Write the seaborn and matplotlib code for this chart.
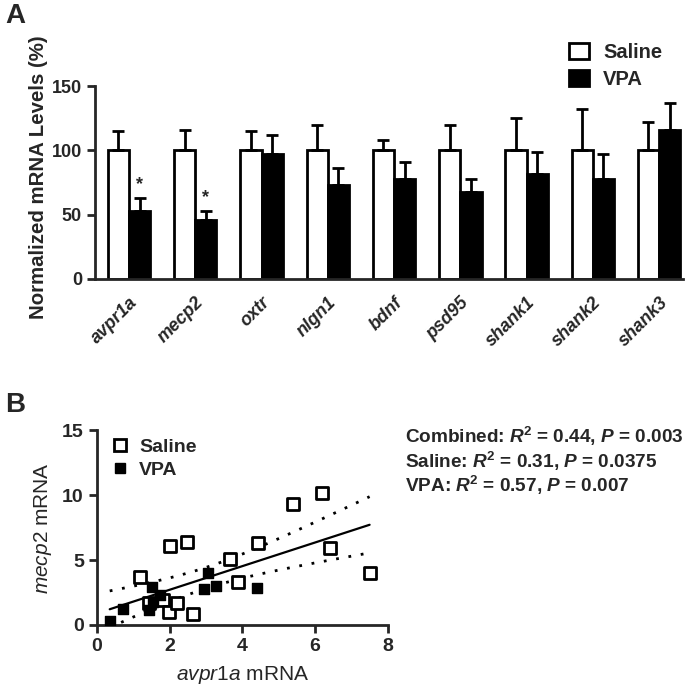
import numpy as np
import pandas as pd
import matplotlib
matplotlib.use('Agg')
import matplotlib.pyplot as plt
import seaborn as sns
from matplotlib.patches import Patch
from matplotlib.lines import Line2D

sns.set_style('ticks')
plt.rcParams['font.family'] = ['Liberation Sans', 'DejaVu Sans']
plt.rcParams['font.weight'] = 'normal'
plt.rcParams['mathtext.fontset'] = 'custom'
plt.rcParams['mathtext.rm'] = 'Liberation Sans'
plt.rcParams['mathtext.it'] = 'Liberation Sans:italic'
plt.rcParams['mathtext.bf'] = 'Liberation Sans:bold'
plt.rcParams['mathtext.bfit'] = 'Liberation Sans:italic:bold'

# ---------------- data: panel A ----------------
genes = ['avpr1a', 'mecp2', 'oxtr', 'nlgn1', 'bdnf', 'psd95', 'shank1', 'shank2', 'shank3']
saline_mean = [100, 100, 100, 100, 100, 100, 100, 100, 100]
saline_err = [15, 16, 15, 20, 8, 20, 25, 32, 22]
vpa_mean = [53, 46, 97, 73, 78, 68, 82, 78, 116]
vpa_err = [10, 7, 15, 13, 13, 10, 17, 19, 21]
significant = ['avpr1a', 'mecp2']

# ---------------- data: panel B ----------------
saline_x = [1.17, 2.0, 2.48, 1.42, 1.81, 1.97, 2.2, 2.63, 3.65, 3.87, 4.42, 5.39, 6.19, 6.42, 7.5]
saline_y = [3.72, 6.1, 6.4, 1.72, 1.92, 1.03, 1.72, 0.82, 5.05, 3.28, 6.28, 9.31, 10.13, 5.9, 3.97]
vpa_x = [0.35, 0.72, 1.42, 1.5, 1.54, 1.72, 2.94, 3.06, 3.27, 4.4]
vpa_y = [0.33, 1.2, 1.15, 2.95, 1.8, 2.3, 2.77, 4.03, 3.0, 2.82]
stats_lines = [
    r'Combined: $\mathbfit{R}^{\mathbf{2}}$ = 0.44, $\mathbfit{P}$ = 0.003',
    r'Saline: $\mathbfit{R}^{\mathbf{2}}$ = 0.31, $\mathbfit{P}$ = 0.0375',
    r'VPA: $\mathbfit{R}^{\mathbf{2}}$ = 0.57, $\mathbfit{P}$ = 0.007',
]

df_a = pd.DataFrame({
    'gene': genes * 2,
    'group': ['Saline'] * len(genes) + ['VPA'] * len(genes),
    'value': saline_mean + vpa_mean,
    'err': saline_err + vpa_err,
})

fig = plt.figure(figsize=(6.85, 6.85), dpi=100)

# ============================================================
# Panel A
# ============================================================
ax1 = fig.add_axes([0.139, 0.593, 0.858, 0.281])
sns.barplot(data=df_a, x='gene', y='value', hue='group', order=genes,
            hue_order=['Saline', 'VPA'], palette=['white', 'black'],
            edgecolor='black', linewidth=2, width=0.64, errorbar=None,
            legend=False, ax=ax1)

# upward-only error bars, GraphPad style
for bars, grp in zip(ax1.containers, ['Saline', 'VPA']):
    sub = df_a[df_a['group'] == grp]
    for patch, (_, row) in zip(bars, sub.iterrows()):
        xc = patch.get_x() + patch.get_width() / 2
        ax1.errorbar(xc, row['value'], yerr=[[0], [row['err']]], fmt='none',
                     ecolor='black', elinewidth=2, capsize=4, capthick=2, zorder=1)
        if grp == 'VPA' and row['gene'] in significant:
            ax1.text(xc, row['value'] + row['err'] + 4, '*', ha='center',
                     va='bottom', fontsize=13, fontweight='bold')

ax1.set_ylim(0, 150)
ax1.set_xlim(-0.51, 8.36)
ax1.set_yticks([0, 50, 100, 150])
ax1.set_xlabel('')
ax1.set_ylabel('Normalized mRNA Levels (%)', fontsize=14.7, fontweight='bold')
ax1.yaxis.set_label_coords(-0.08, 0.53)
ax1.set_xticks(range(len(genes)))
ax1.set_xticklabels(genes, rotation=45, ha='right', rotation_mode='anchor',
                    fontstyle='italic', fontweight='bold', fontsize=13)
ax1.tick_params(axis='x', length=0, pad=11)
ax1.tick_params(axis='y', width=2, length=6, labelsize=13)
for lbl in ax1.get_yticklabels():
    lbl.set_fontweight('bold')
sns.despine(ax=ax1)
for s in ['left', 'bottom']:
    ax1.spines[s].set_linewidth(2)

handles_a = [Patch(facecolor='white', edgecolor='black', linewidth=2, label='Saline'),
             Patch(facecolor='black', edgecolor='black', linewidth=2, label='VPA')]
leg = ax1.legend(handles=handles_a, loc='upper left', bbox_to_anchor=(0.775, 1.32),
                 frameon=False, fontsize=14.5, handlelength=1.0, handleheight=0.8,
                 handletextpad=0.7, labelspacing=0.4)
for t in leg.get_texts():
    t.set_fontweight('bold')

fig.text(0.008, 0.995, 'A', fontsize=20, fontweight='bold', va='top')

# ============================================================
# Panel B
# ============================================================
ax2 = fig.add_axes([0.1416, 0.0876, 0.4245, 0.2844])
sns.scatterplot(x=saline_x, y=saline_y, marker='s', s=64, facecolor='white',
                edgecolor='black', linewidth=2, ax=ax2, zorder=3)
sns.scatterplot(x=vpa_x, y=vpa_y, marker='s', s=42, color='black',
                edgecolor='black', linewidth=1, ax=ax2, zorder=3)

# combined linear fit with 95% confidence band
all_x = np.array(saline_x + vpa_x)
all_y = np.array(saline_y + vpa_y)
slope, intercept = np.polyfit(all_x, all_y, 1)
n = len(all_x)
resid = all_y - (slope * all_x + intercept)
s_err = np.sqrt(np.sum(resid ** 2) / (n - 2))
t_val = 2.069  # t(0.975, df=23)
xs = np.linspace(all_x.min(), all_x.max(), 100)
fit = slope * xs + intercept
band = t_val * s_err * np.sqrt(1 / n + (xs - all_x.mean()) ** 2 / np.sum((all_x - all_x.mean()) ** 2))
sns.lineplot(x=xs, y=fit, color='black', linewidth=1.6, ax=ax2)
ax2.plot(xs, fit + band, color='black', linestyle=(0, (1, 3.5)), linewidth=2)
ax2.plot(xs, fit - band, color='black', linestyle=(0, (1, 3.5)), linewidth=2)

ax2.set_xlim(0, 8)
ax2.set_ylim(0, 15)
ax2.set_xticks([0, 2, 4, 6, 8])
ax2.set_yticks([0, 5, 10, 15])
ax2.set_xlabel(r'$\mathit{avpr1a}$ mRNA', fontsize=15, labelpad=6)
ax2.set_ylabel(r'$\mathit{mecp2}$ mRNA', fontsize=15, labelpad=6)
ax2.tick_params(width=2, length=6, labelsize=14)
for lbl in ax2.get_xticklabels() + ax2.get_yticklabels():
    lbl.set_fontweight('bold')
sns.despine(ax=ax2)
for s in ['left', 'bottom']:
    ax2.spines[s].set_linewidth(2)

handles_b = [Line2D([], [], marker='s', linestyle='none', markersize=8,
                    markerfacecolor='white', markeredgecolor='black',
                    markeredgewidth=2, label='Saline'),
             Line2D([], [], marker='s', linestyle='none', markersize=7.5,
                    color='black', label='VPA')]
leg2 = ax2.legend(handles=handles_b, loc='upper left', bbox_to_anchor=(-0.015, 1.05),
                  frameon=False, fontsize=14, handlelength=1.0, handletextpad=0.5,
                  labelspacing=0.3)
for t in leg2.get_texts():
    t.set_fontweight('bold')

fig.text(0.008, 0.428, 'B', fontsize=20, fontweight='bold', va='top')

for i, line in enumerate(stats_lines):
    fig.text(0.591, 0.363 - i * 0.036, line, fontsize=13.7, fontweight='bold',
             va='center', ha='left')

fig.savefig('out.png', dpi=100)
